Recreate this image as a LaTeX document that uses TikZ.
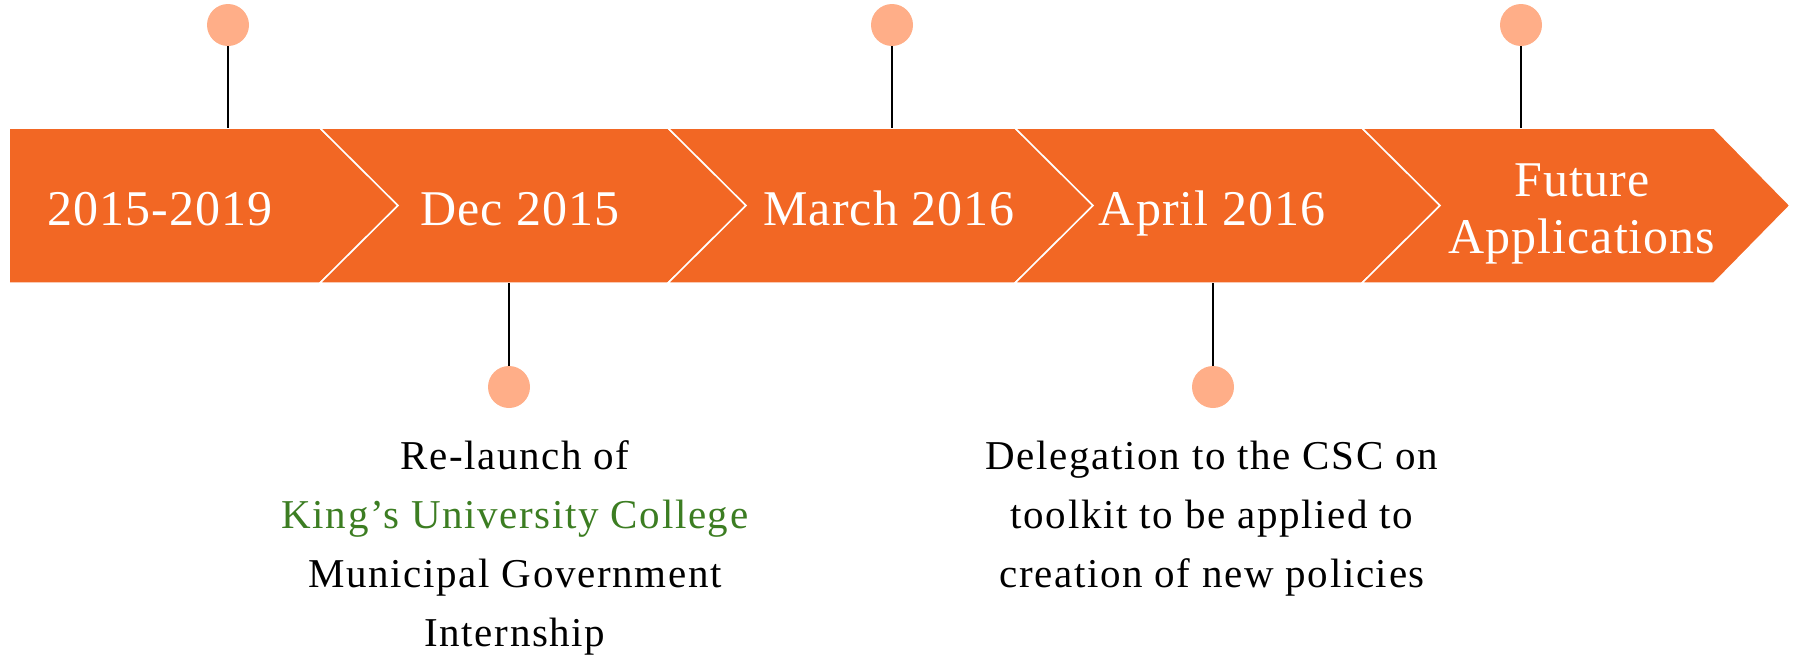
\documentclass[tikz,border=0pt]{standalone}
\usepackage{fontspec}
\setmainfont{Liberation Serif}
\newfontfamily\spacedfont[LetterSpace=2.0]{Liberation Serif}
\newfontfamily\widefont[LetterSpace=4.0]{Liberation Serif}
\definecolor{barorange}{HTML}{F26724}
\definecolor{dotorange}{HTML}{FFAE88}
\definecolor{kgreen}{HTML}{3C7D22}
\begin{document}
\begin{tikzpicture}[x=1pt,y=-1pt,
  seg/.style={fill=barorange, draw=white, line width=1.5pt, line join=miter},
  dot/.style={circle, fill=dotorange, minimum size=42pt, inner sep=0pt},
  stem/.style={black, line width=1.5pt},
  toplabel/.style={text=white, font=\fontsize{50}{57}\selectfont\spacedfont, anchor=base, align=center, inner sep=0pt},
  desc/.style={font=\fontsize{41}{59}\selectfont\widefont, anchor=base, align=center, inner sep=0pt}]
\useasboundingbox (0,0) rectangle (1795,656);

% chevron bar
\draw[seg] (9,128) -- (320,128) -- (398,205.5) -- (320,283) -- (9,283) -- cycle;
\draw[seg] (320,128) -- (668,128) -- (746,205.5) -- (668,283) -- (320,283) -- (398,205.5) -- cycle;
\draw[seg] (668,128) -- (1015,128) -- (1093,205.5) -- (1015,283) -- (668,283) -- (746,205.5) -- cycle;
\draw[seg] (1015,128) -- (1362,128) -- (1440,205.5) -- (1362,283) -- (1015,283) -- (1093,205.5) -- cycle;
\draw[seg] (1362,128) -- (1714,128) -- (1790,205.5) -- (1714,283) -- (1362,283) -- (1440,205.5) -- cycle;

% labels on bar
\node[toplabel] (l1) at (160,225) {2015-2019};
\node[toplabel] (l2) at (520,225) {Dec 2015};
\node[toplabel] (l3) at (889,225) {March 2016};
\node[toplabel] (l4) at (1212,225) {April 2016};
\node[toplabel] (l5) at (1582,253) {Future\\Applications};

% top markers
\node[dot] (t1) at (228,25) {};
\node[dot] (t2) at (892,25) {};
\node[dot] (t3) at (1521,25) {};
\coordinate (t1b) at (228,128);
\coordinate (t2b) at (892,128);
\coordinate (t3b) at (1521,128);
\draw[stem] (t1) -- (t1b);
\draw[stem] (t2) -- (t2b);
\draw[stem] (t3) -- (t3b);

% bottom markers
\node[dot] (b1) at (509,387) {};
\node[dot] (b2) at (1213,387) {};
\coordinate (b1t) at (509,283);
\coordinate (b2t) at (1213,283);
\draw[stem] (b1t) -- (b1);
\draw[stem] (b2t) -- (b2);

% descriptions
\node[desc] (d1) at (515,646) {Re-launch of\\\textcolor{kgreen}{King’s University College}\\Municipal Government\\Internship};
\node[desc] (d2) at (1212,587) {Delegation to the CSC on\\toolkit to be applied to\\creation of new policies};
\end{tikzpicture}
\end{document}
